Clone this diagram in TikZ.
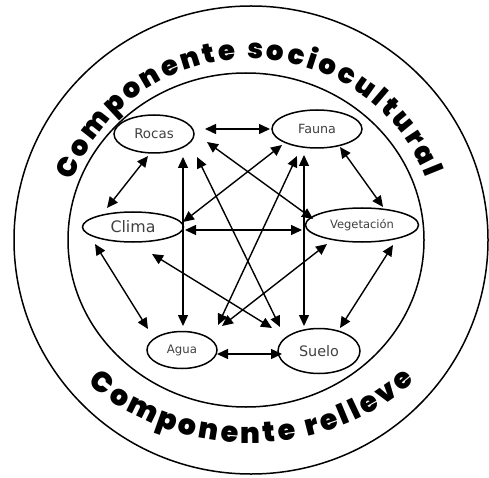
\documentclass[tikz,border=0pt]{standalone}
\usepackage{fontspec}
\newfontfamily\labelfont{DejaVu Sans}
\newfontfamily\heavyfont{Poppins Black}
\usetikzlibrary{arrows.meta,shapes.geometric,decorations.text,calc}

\tikzset{
  elem/.style={draw, ellipse, line width=1.5pt, inner sep=0pt, text=black!75},
  link/.style={line width=1.4pt, {Triangle[length=11pt,width=10pt]}-{Triangle[length=11pt,width=10pt]}},
  ring/.style={line width=1.5pt}
}

\begin{document}
\begin{tikzpicture}[x=1pt,y=1pt]
  \useasboundingbox (0,0) rectangle (489,477);

  % Rings
  \draw[ring] (251,237) ellipse [x radius=237pt, y radius=234pt];
  \draw[ring] (246,237) ellipse [x radius=178pt, y radius=167pt];

  % Ring labels
  \coordinate (top) at (250,237);
  \coordinate (bot) at (250,245);
  \path[decorate, decoration={text along path, text align=fit to path,
      text={|\heavyfont\fontsize{27.5}{28}\selectfont|Componente sociocultural}}]
    ($(top)+(161:187pt and 181pt)$) arc[start angle=161, end angle=20, x radius=187pt, y radius=181pt];
  \path[decorate, decoration={text along path, text align=fit to path,
      text={|\heavyfont\fontsize{28.5}{29}\selectfont|Componente relleve}}]
    ($(bot)+(226:233pt and 211pt)$) arc[start angle=226, end angle=315, x radius=233pt, y radius=211pt];

  % Elements
  \node[elem, minimum width=80pt, minimum height=38pt, font=\labelfont\fontsize{13.4}{16}\selectfont] (rocas) at (154,343) {Rocas};
  \node[elem, minimum width=90pt, minimum height=38pt, font=\labelfont\fontsize{12.7}{15}\selectfont] (fauna) at (317,348) {Fauna};
  \node[elem, minimum width=101pt, minimum height=30pt, font=\labelfont\fontsize{15.8}{18}\selectfont] (clima) at (133,250) {Clima};
  \node[elem, minimum width=113pt, minimum height=34pt, font=\labelfont\fontsize{11.5}{14}\selectfont] (vege) at (362,252) {Vegetación};
  \node[elem, minimum width=70pt, minimum height=37pt, font=\labelfont\fontsize{11.7}{14}\selectfont] (agua) at (182,127) {Agua};
  \node[elem, minimum width=82pt, minimum height=45pt, font=\labelfont\fontsize{14.4}{17}\selectfont] (suelo) at (319,126) {Suelo};

  % Relations
  \draw[link] ([shift={(51,5)}]rocas.center) -- ([shift={(-47,0)}]fauna.center);
  \draw[link] ([shift={(-6,-22)}]rocas.center) -- ([shift={(-26,19)}]clima.center);
  \draw[link] ([shift={(23,-18)}]fauna.center) -- ([shift={(21,18)}]vege.center);
  \draw[link] ([shift={(52,-3)}]clima.center) -- ([shift={(-60,-5)}]vege.center);
  \draw[link] ([shift={(-38,-17)}]clima.center) -- ([shift={(-34,21)}]agua.center);
  \draw[link] ([shift={(31,-20)}]vege.center) -- ([shift={(21,23)}]suelo.center);
  \draw[link] ([shift={(35,-4)}]agua.center) -- ([shift={(-37,-3)}]suelo.center);
  \draw[link] ([shift={(29,-23)}]rocas.center) -- ([shift={(1,24)}]agua.center);
  \draw[link] ([shift={(-13,-26)}]fauna.center) -- ([shift={(-15,25)}]suelo.center);
  \draw[link] ([shift={(43,-23)}]rocas.center) -- ([shift={(-39,24)}]suelo.center);
  \draw[link] ([shift={(53,-8)}]rocas.center) -- ([shift={(-49,6)}]vege.center);
  \draw[link] ([shift={(-35,-16)}]fauna.center) -- ([shift={(50,5)}]clima.center);
  \draw[link] ([shift={(-20,-27)}]fauna.center) -- ([shift={(36,25)}]agua.center);
  \draw[link] ([shift={(-35,-19)}]vege.center) -- ([shift={(40,24)}]agua.center);
  \draw[link] ([shift={(19,-27)}]clima.center) -- ([shift={(-47,23)}]suelo.center);
\end{tikzpicture}
\end{document}
